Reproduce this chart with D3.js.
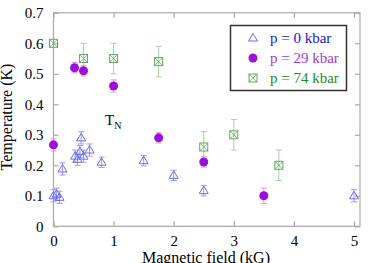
<!DOCTYPE html>
<html>
<head>
<meta charset="utf-8">
<script src="https://cdn.jsdelivr.net/npm/d3@7"></script>
<style>
body { margin: 0; background: #fff; }
svg text { font-family: "Liberation Serif", "Times New Roman", "DejaVu Serif", serif; }
</style>
</head>
<body>
<svg width="374" height="263"></svg>
<script>
// p = 0 kbar
const field0 = [0.0, 0.05, 0.1, 0.15, 0.36, 0.4, 0.44, 0.46, 0.5, 0.6, 0.8, 1.5, 2.0, 2.5, 5.0]
const temp0  = [0.1, 0.105, 0.095, 0.188, 0.23, 0.22, 0.245, 0.29, 0.23, 0.25, 0.21, 0.215, 0.167, 0.117, 0.1]
const err0   = [0.02, 0.02, 0.02, 0.02, 0.02, 0.02, 0.02, 0.02, 0.02, 0.02, 0.017, 0.017, 0.017, 0.017, 0.02]
// p = 29 kbar
const field29 = [0.0, 0.35, 0.5, 1.0, 1.75, 2.5, 3.5]
const temp29  = [0.267, 0.52, 0.51, 0.46, 0.29, 0.211, 0.1]
const err29   = [0.02, 0.017, 0.017, 0.02, 0.017, 0.017, 0.025]
// p = 74 kbar
const field74 = [0.0, 0.5, 1.0, 1.75, 2.5, 3.0, 3.75]
const temp74  = [0.6, 0.55, 0.55, 0.54, 0.26, 0.3, 0.2]
const err74   = [0, 0.05, 0.05, 0.05, 0.05, 0.05, 0.05]

const xTicks = [0, 1, 2, 3, 4, 5]
const yTicks = [0, 0.1, 0.2, 0.3, 0.4, 0.5, 0.6, 0.7]
const legendLabels = ['p = 0 kbar', 'p = 29 kbar', 'p = 74 kbar']

const svg = d3.select('svg')
const x = d3.scaleLinear([0, 5.1], [53.5, 360])
const y = d3.scaleLinear([0, 0.7], [226.3, 12.8])

const frame = '#a8a8a8'
const serif = '"Liberation Serif", "Times New Roman", serif'

// FRAME
svg.append('rect')
    .attr('x', x(0)).attr('y', y(0.7))
    .attr('width', x(5.1) - x(0)).attr('height', y(0) - y(0.7))
    .attr('fill', 'none').attr('stroke', frame).attr('stroke-width', 1.2)

// AXES
svg.append('g').attr('transform', `translate(0,${y(0)})`)
    .call(d3.axisBottom(x).tickValues(xTicks).tickFormat(d3.format('d')).tickSizeInner(-5).tickSizeOuter(0).tickPadding(9))
svg.append('g').attr('transform', `translate(0,${y(0.7)})`)
    .call(d3.axisTop(x).tickValues(xTicks).tickFormat('').tickSizeInner(-5).tickSizeOuter(0))
svg.append('g').attr('transform', `translate(${x(0)},0)`)
    .call(d3.axisLeft(y).tickValues(yTicks).tickFormat(d => d === 0 ? '0' : d3.format('.1f')(d)).tickSizeInner(-5).tickSizeOuter(0).tickPadding(10))
svg.append('g').attr('transform', `translate(${x(5.1)},0)`)
    .call(d3.axisRight(y).tickValues(yTicks).tickFormat('').tickSizeInner(-5).tickSizeOuter(0))

svg.selectAll('.domain').remove()
svg.selectAll('g').attr('font-family', serif)
svg.selectAll('.tick line').attr('stroke', frame).attr('stroke-width', 1.2)
svg.selectAll('.tick text').attr('font-size', '15px').attr('fill', '#000')

// LABELS
svg.append('text')
    .text('Magnetic field (kG)')
    .attr('text-anchor', 'middle')
    .attr('x', 206).attr('y', 263)
    .attr('font-family', serif)
    .attr('font-size', '16px')

svg.append('text')
    .text('Temperature (K)')
    .attr('text-anchor', 'middle')
    .attr('transform', 'translate(12,117) rotate(-90)')
    .attr('font-family', serif)
    .attr('font-size', '16px')

const tn = svg.append('text').attr('x', 105).attr('y', 125).attr('font-size', '15px').attr('font-family', serif)
tn.append('tspan').text('T')
tn.append('tspan').text('N').attr('font-size', '10px').attr('dy', 4)

// SERIES
function errorBars(fields, temps, errs, color) {
    const g = svg.append('g').attr('stroke', color).attr('stroke-width', 1)
    fields.forEach((f, i) => {
        if (!errs[i]) return
        const cx = x(f), t = y(temps[i] + errs[i]), b = y(temps[i] - errs[i])
        g.append('line').attr('x1', cx).attr('x2', cx).attr('y1', t).attr('y2', b)
        g.append('line').attr('x1', cx - 3).attr('x2', cx + 3).attr('y1', t).attr('y2', t)
        g.append('line').attr('x1', cx - 3).attr('x2', cx + 3).attr('y1', b).attr('y2', b)
    })
}

function triangle(g, cx, cy) {
    g.append('path')
        .attr('d', `M${cx},${cy - 4.5}L${cx + 4.5},${cy + 3}L${cx - 4.5},${cy + 3}Z`)
        .attr('fill', 'none').attr('stroke', '#6a6af0').attr('stroke-width', 1)
}
function circle(g, cx, cy) {
    g.append('circle').attr('cx', cx).attr('cy', cy).attr('r', 4.5).attr('fill', '#9a10d8')
}
function boxX(g, cx, cy) {
    g.append('rect').attr('x', cx - 4).attr('y', cy - 4).attr('width', 8).attr('height', 8)
        .attr('fill', 'none').attr('stroke', '#5faa5f').attr('stroke-width', 1)
    g.append('path').attr('d', `M${cx - 4},${cy - 4}L${cx + 4},${cy + 4}M${cx + 4},${cy - 4}L${cx - 4},${cy + 4}`)
        .attr('stroke', '#5faa5f').attr('stroke-width', 0.8)
}

errorBars(field0, temp0, err0, '#9a9af5')
errorBars(field29, temp29, err29, '#d79af0')
errorBars(field74, temp74, err74, '#a8d0a8')

const marks = svg.append('g')
field74.forEach((f, i) => boxX(marks, x(f), y(temp74[i])))
field29.forEach((f, i) => circle(marks, x(f), y(temp29[i])))
field0.forEach((f, i) => triangle(marks, x(f), y(temp0[i])))

// LEGEND
svg.append('rect')
    .attr('x', 230.5).attr('y', 25.5).attr('width', 116).attr('height', 65)
    .attr('fill', '#fff').attr('stroke', '#333').attr('stroke-width', 1.5)
const legColors = ['#1515d0', '#a637d8', '#1f8a1f']
const drawers = [triangle, circle, boxX]
legendLabels.forEach((label, i) => {
    const ly = 38 + i * 20
    drawers[i](svg, 253, ly)
    svg.append('text').text(label)
        .attr('x', 270).attr('y', ly + 5)
        .attr('font-family', serif)
        .attr('font-size', '15px')
        .attr('fill', legColors[i])
})
</script>
</body>
</html>
